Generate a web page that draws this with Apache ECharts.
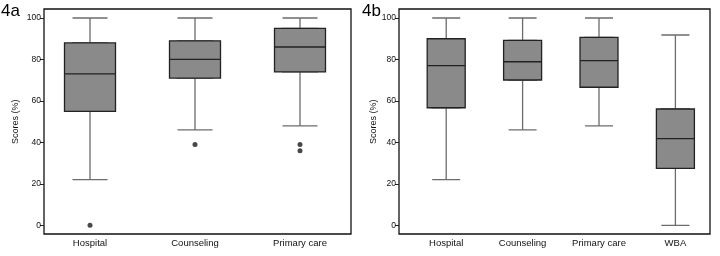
<!DOCTYPE html>
<html>
<head>
<meta charset="utf-8">
<script src="https://cdn.jsdelivr.net/npm/echarts@6/dist/echarts.min.js"></script>
<style>
  html, body { margin: 0; padding: 0; background: #fff; }
  #chart { width: 720px; height: 256px; }
</style>
</head>
<body>
<div id="chart"></div>
<script>
// panel 4a
const categoriesA = ['Hospital', 'Counseling', 'Primary care'];
// [min, Q1, median, Q3, max]
const statsA = [
  [22, 55, 73, 88, 100],
  [46, 71, 80, 89, 100],
  [48, 74, 86, 95, 100]
];
const outliersA = [[0, 0], [1, 39], [2, 39], [2, 36]];

// panel 4b
const categoriesB = ['Hospital', 'Counseling', 'Primary care', 'WBA'];
const statsB = [
  [22, 56.7, 77, 90, 100],
  [46, 70.1, 78.9, 89.2, 100],
  [48, 66.6, 79.4, 90.7, 100],
  [0, 27.5, 41.8, 56.1, 91.8]
];

const yTicks = { min: 0, max: 100, interval: 20 };

const FONT = 'Liberation Sans, Arial, sans-serif';
const BOX_FILL = '#8a8a8a';
const BOX_EDGE = '#222';
const WHISKER = '#6c6c6c';

// box only: whiskers collapse onto Q1/Q3
const boxOnly = stats => stats.map(s => [s[1], s[1], s[2], s[3], s[3]]);

const chart = echarts.init(document.getElementById('chart'));

// helpers for the 2 panels
function frameAxes(grid) {
  return {
    x: { gridIndex: grid, type: 'value', show: false },
    y: { gridIndex: grid, type: 'value', show: false }
  };
}

function catAxis(grid, cats, showLabels) {
  return {
    gridIndex: grid,
    type: 'category',
    data: cats,
    axisLine: { show: false },
    axisTick: { show: false },
    axisLabel: {
      show: showLabels,
      margin: 13,
      fontSize: 9.5,
      fontFamily: FONT,
      color: '#111'
    }
  };
}

function valAxis(grid, offset, nameGap) {
  return {
    gridIndex: grid,
    type: 'value',
    ...yTicks,
    offset: offset,
    name: 'Scores (%)',
    nameLocation: 'middle',
    nameGap: nameGap,
    nameTextStyle: { fontSize: 9, fontFamily: FONT, color: '#111' },
    axisLine: { show: false },
    axisTick: { show: true, length: 4, lineStyle: { color: '#222' } },
    axisLabel: { fontSize: 8.5, fontFamily: FONT, color: '#111', margin: 3 },
    splitLine: { show: false }
  };
}

const fA = frameAxes(0), fB = frameAxes(2);

const titleStyle = { fontSize: 17, fontWeight: 'normal', fontFamily: FONT, color: '#000' };

const option = {
  animation: false,
  backgroundColor: '#fff',
  title: [
    { text: '4a', left: 1, top: 3, padding: 0, textStyle: titleStyle },
    { text: '4b', left: 362, top: 3, padding: 0, textStyle: titleStyle }
  ],
  grid: [
    // frame 4a
    { left: 44, top: 9, width: 307, height: 225, show: true, borderColor: '#111', borderWidth: 1.3, backgroundColor: 'transparent' },
    // data 4a
    { left: 37.5, top: 18, width: 315, height: 207.3 },
    // frame 4b
    { left: 399, top: 9, width: 311, height: 225, show: true, borderColor: '#111', borderWidth: 1.3, backgroundColor: 'transparent' },
    // data 4b
    { left: 408, top: 18, width: 305.6, height: 207.3 }
  ],
  xAxis: [
    fA.x,
    catAxis(1, categoriesA, true),
    catAxis(1, categoriesA, false),
    fB.x,
    catAxis(3, categoriesB, true),
    catAxis(3, categoriesB, false)
  ],
  yAxis: [
    fA.y,
    valAxis(1, -6.5, 24),
    fB.y,
    valAxis(3, 9, 15)
  ],
  series: [
    // 4a whiskers
    {
      type: 'boxplot', xAxisIndex: 1, yAxisIndex: 1,
      boxWidth: [35, 35],
      data: statsA,
      itemStyle: { color: BOX_FILL, borderColor: WHISKER, borderWidth: 1.3 },
      silent: true
    },
    // 4a boxes
    {
      type: 'boxplot', xAxisIndex: 2, yAxisIndex: 1,
      boxWidth: [51, 51],
      data: boxOnly(statsA),
      itemStyle: { color: BOX_FILL, borderColor: BOX_EDGE, borderWidth: 1.3 },
      silent: true
    },
    {
      type: 'scatter', xAxisIndex: 1, yAxisIndex: 1,
      data: outliersA,
      symbolSize: 5,
      itemStyle: { color: '#1a1a1a' },
      silent: true
    },
    // 4b whiskers
    {
      type: 'boxplot', xAxisIndex: 4, yAxisIndex: 3,
      boxWidth: [28, 28],
      data: statsB,
      itemStyle: { color: BOX_FILL, borderColor: WHISKER, borderWidth: 1.3 },
      silent: true
    },
    // 4b boxes
    {
      type: 'boxplot', xAxisIndex: 5, yAxisIndex: 3,
      boxWidth: [38, 38],
      data: boxOnly(statsB),
      itemStyle: { color: BOX_FILL, borderColor: BOX_EDGE, borderWidth: 1.3 },
      silent: true
    }
  ]
};

chart.setOption(option);
</script>
</body>
</html>
